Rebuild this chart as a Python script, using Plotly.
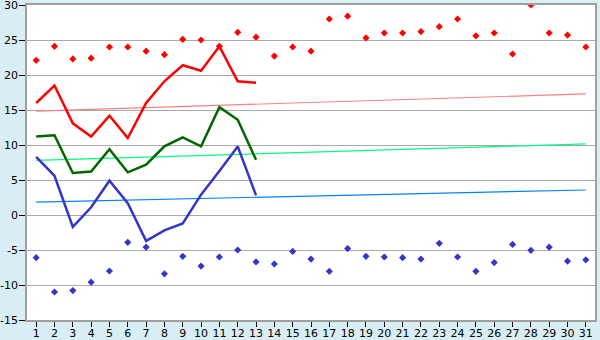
import plotly.graph_objects as go

days = list(range(1, 32))
y_ticks = [-15, -10, -5, 0, 5, 10, 15, 20, 25, 30]
y_tick_text = ["-15", "-10", "-5", "0", "5", "10", "15", "20", "25", "30"]

max_marks = [22.1, 24.1, 22.3, 22.4, 24.0, 24.0, 23.4, 22.9, 25.1, 25.0,
             24.1, 26.1, 25.4, 22.7, 24.0, 23.4, 28.0, 28.4, 25.3, 26.0,
             26.0, 26.2, 26.9, 28.0, 25.6, 26.0, 23.0, 30.0, 26.0, 25.7, 24.0]
min_marks = [-6.1, -11.0, -10.8, -9.6, -8.0, -3.9, -4.6, -8.4, -5.9, -7.3,
             -6.0, -5.0, -6.7, -7.0, -5.2, -6.3, -8.05, -4.8, -5.9, -6.0,
             -6.1, -6.3, -4.05, -6.0, -8.05, -6.8, -4.2, -5.05, -4.6, -6.6, -6.4]

red_line = [16.0, 18.5, 13.1, 11.2, 14.2, 11.0, 16.0, 19.1, 21.4, 20.6, 24.1, 19.1, 18.9]
green_line = [11.2, 11.4, 6.0, 6.2, 9.4, 6.1, 7.2, 9.8, 11.1, 9.8, 15.4, 13.6, 7.9]
blue_line = [8.3, 5.6, -1.7, 1.1, 4.9, 1.7, -3.7, -2.2, -1.2, 2.9, 6.3, 9.8, 2.8]

trend_x = [1, 31]
red_trend = [14.85, 17.3]
green_trend = [7.8, 10.15]
blue_trend = [1.85, 3.57]

fig = go.Figure()
fig.add_trace(go.Scatter(x=trend_x, y=red_trend, mode="lines", line=dict(color="#FF8080", width=1.2)))
fig.add_trace(go.Scatter(x=trend_x, y=green_trend, mode="lines", line=dict(color="#00FF80", width=1.2)))
fig.add_trace(go.Scatter(x=trend_x, y=blue_trend, mode="lines", line=dict(color="#0080FF", width=1.2)))
n = len(red_line)
fig.add_trace(go.Scatter(x=days[:n], y=red_line, mode="lines", line=dict(color="#FF0000", width=2.5)))
fig.add_trace(go.Scatter(x=days[:n], y=green_line, mode="lines", line=dict(color="#006600", width=2.5)))
fig.add_trace(go.Scatter(x=days[:n], y=blue_line, mode="lines", line=dict(color="#3535C8", width=2.5)))
fig.add_trace(go.Scatter(x=days, y=max_marks, mode="markers",
                         marker=dict(symbol="diamond", size=5.5, color="#FF0000")))
fig.add_trace(go.Scatter(x=days, y=min_marks, mode="markers",
                         marker=dict(symbol="diamond", size=5.5, color="#3535C8")))

fig.update_layout(
    width=600, height=340,
    margin=dict(l=27, r=5, t=5, b=20, autoexpand=False),
    paper_bgcolor="#D8EEF4",
    plot_bgcolor="#FFFFFF",
    showlegend=False,
    font=dict(family="DejaVu Sans", size=11, color="#000000"),
)
fig.update_xaxes(
    range=[0.5, 31.5], tickmode="array", tickvals=days, ticktext=[str(d) for d in days],
    showgrid=False, zeroline=False, ticks="outside", ticklen=5, tickcolor="#000000",
    showline=True, linecolor="#A0A0A0", linewidth=1.5, mirror=True, tickfont=dict(size=11),
    automargin=False, ticklabeloverflow="allow", ticklabelstandoff=-3,
)
fig.update_yaxes(
    range=[-15, 30], tickmode="array", tickvals=y_ticks, ticktext=y_tick_text,
    showgrid=True, gridcolor="#AAAAAA", gridwidth=1,
    zeroline=False, ticks="outside", ticklen=6, tickcolor="#000000",
    showline=True, linecolor="#A0A0A0", linewidth=1.5, mirror=True, tickfont=dict(size=11),
    automargin=False, ticklabeloverflow="allow", ticklabelstandoff=-1,
)

fig.write_html("out.html")
